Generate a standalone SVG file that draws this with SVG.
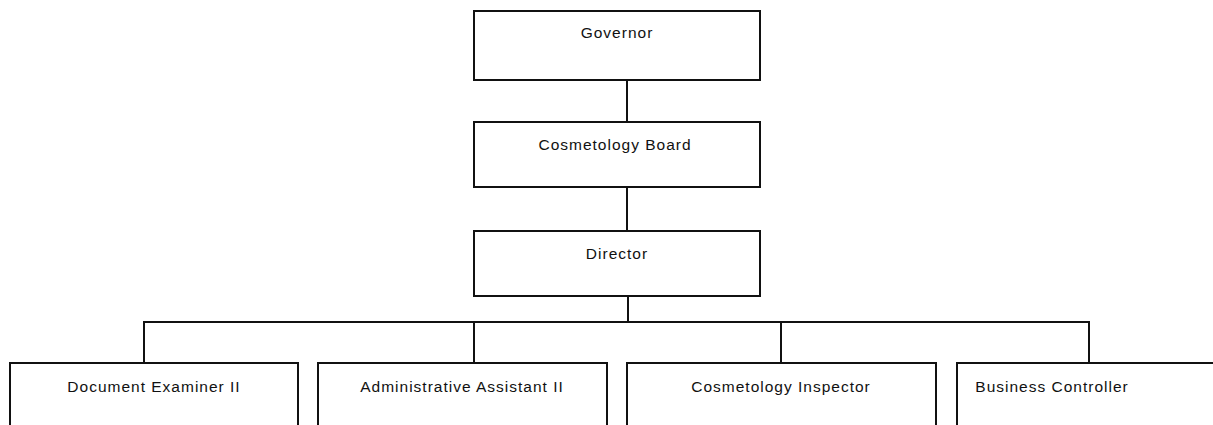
<svg xmlns="http://www.w3.org/2000/svg" width="1213" height="425" viewBox="0 0 1213 425">
<style>
.box{fill:#fff;stroke:#111;stroke-width:2}
.lbl{font-family:"Liberation Sans","DejaVu Sans",sans-serif;font-size:15.5px;letter-spacing:1px;fill:#111;text-anchor:middle}
.con{fill:none;stroke:#111;stroke-width:2}
</style>
<rect width="1213" height="425" fill="#fff"/>
<g id="connectors">
<line class="con" x1="627" y1="80" x2="627" y2="122"/>
<line class="con" x1="627" y1="187" x2="627" y2="231"/>
<line class="con" x1="628" y1="296" x2="628" y2="322"/>
<polyline class="con" points="144,363 144,322 1089,322 1089,363"/>
<line class="con" x1="474" y1="322" x2="474" y2="363"/>
<line class="con" x1="781" y1="322" x2="781" y2="363"/>
</g>
<g id="governor">
<rect class="box" x="474" y="11" width="286" height="69"/>
<text class="lbl" x="617" y="38">Governor</text>
</g>
<g id="cosmetology-board">
<rect class="box" x="474" y="122" width="286" height="65"/>
<text class="lbl" x="615" y="150">Cosmetology Board</text>
</g>
<g id="director">
<rect class="box" x="474" y="231" width="286" height="65"/>
<text class="lbl" x="617" y="259">Director</text>
</g>
<g id="document-examiner">
<rect class="box" x="10" y="363" width="288" height="80"/>
<text class="lbl" x="154" y="392">Document Examiner II</text>
</g>
<g id="administrative-assistant">
<rect class="box" x="318" y="363" width="289" height="80"/>
<text class="lbl" x="462" y="392">Administrative Assistant II</text>
</g>
<g id="cosmetology-inspector">
<rect class="box" x="627" y="363" width="309" height="80"/>
<text class="lbl" x="781" y="392">Cosmetology Inspector</text>
</g>
<g id="business-controller">
<rect class="box" x="957" y="363" width="300" height="80"/>
<text class="lbl" x="1052" y="392">Business Controller</text>
</g>
</svg>
